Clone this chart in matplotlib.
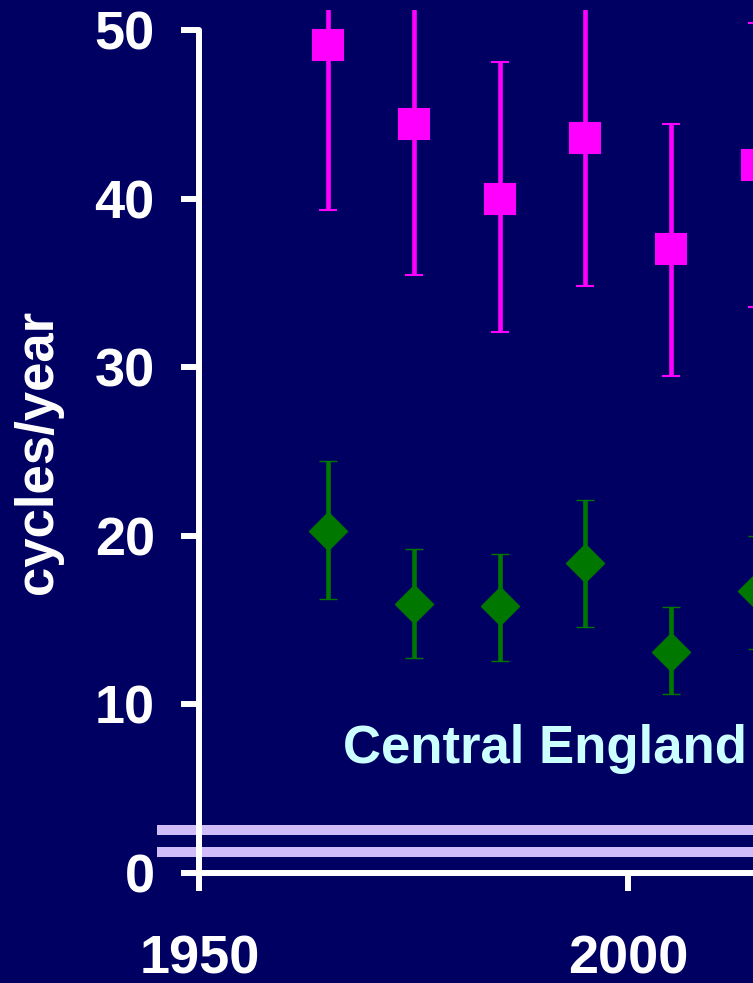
import matplotlib.pyplot as plt

# decade centres and the two series (mean, lower, upper)
years = [1965, 1975, 1985, 1995, 2005, 2015]

pink_mean = [49.1, 44.4, 40.0, 43.6, 37.0, 42.0]
pink_low = [39.3, 35.5, 32.1, 34.8, 29.5, 33.6]
pink_high = [58.9, 53.3, 48.1, 52.4, 44.4, 50.4]

green_mean = [20.3, 15.95, 15.85, 18.4, 13.1, 16.7]
green_low = [16.25, 12.75, 12.6, 14.6, 10.6, 13.3]
green_high = [24.45, 19.2, 18.9, 22.1, 15.8, 20.0]

band_levels = [2.55, 1.26]

yticks = [0, 10, 20, 30, 40, 50]
xticks = [1950, 2000]

bg = '#000062'
plt.rcParams['font.family'] = ['Liberation Sans', 'DejaVu Sans']
plt.rcParams['font.weight'] = 'bold'

fig = plt.figure(figsize=(7.53, 9.83), dpi=100, facecolor=bg)
ax = fig.add_axes([0.2647, 0.1119, 0.9116, 0.8781])
ax.set_facecolor(bg)

def err(mean, low, high):
    return [[m - l for m, l in zip(mean, low)], [h - m for m, h in zip(mean, high)]]

ax.errorbar(years, pink_mean, yerr=err(pink_mean, pink_low, pink_high),
            fmt='s', color='#ff00ff', ms=21.5, mew=1.5, elinewidth=3.3,
            capsize=6.8, capthick=3.3, zorder=3)
ax.errorbar(years, green_mean, yerr=err(green_mean, green_low, green_high),
            fmt='D', color='#007800', ms=19, mew=1, elinewidth=3.3,
            capsize=6.8, capthick=3.3, zorder=3)

for lev in band_levels:
    ax.axhline(lev, xmin=-0.0615, xmax=1, color='#d0bcf8', lw=7.2,
               solid_capstyle='butt', clip_on=False, zorder=2)

ax.text(1966.7, 6.52, 'Central England', color='#ccffff', fontsize=38,
        fontweight='bold', ha='left', va='baseline')

ax.set_xlim(1950, 2030)
ax.set_ylim(0, 51.2)
ax.set_xticks(xticks)
ax.set_yticks(yticks)

for s in ['top', 'right']:
    ax.spines[s].set_visible(False)
for s in ['left', 'bottom']:
    ax.spines[s].set_color('white')
    ax.spines[s].set_linewidth(4.3)
    ax.spines[s].set_capstyle('round')
ax.spines['left'].set_bounds(0, 50)

ax.tick_params(axis='both', colors='white', width=4.3, length=13,
               labelsize=39, direction='out')
ax.tick_params(axis='y', pad=19)
ax.tick_params(axis='x', pad=31)
for lab in ax.get_xticklabels() + ax.get_yticklabels():
    lab.set_fontweight('bold')

ax.set_ylabel('cycles/year', color='white', fontsize=38, fontweight='bold')
ax.yaxis.set_label_coords(-0.1986, 25 / 51.2)

fig.savefig('out.png', dpi=100, facecolor=bg)
